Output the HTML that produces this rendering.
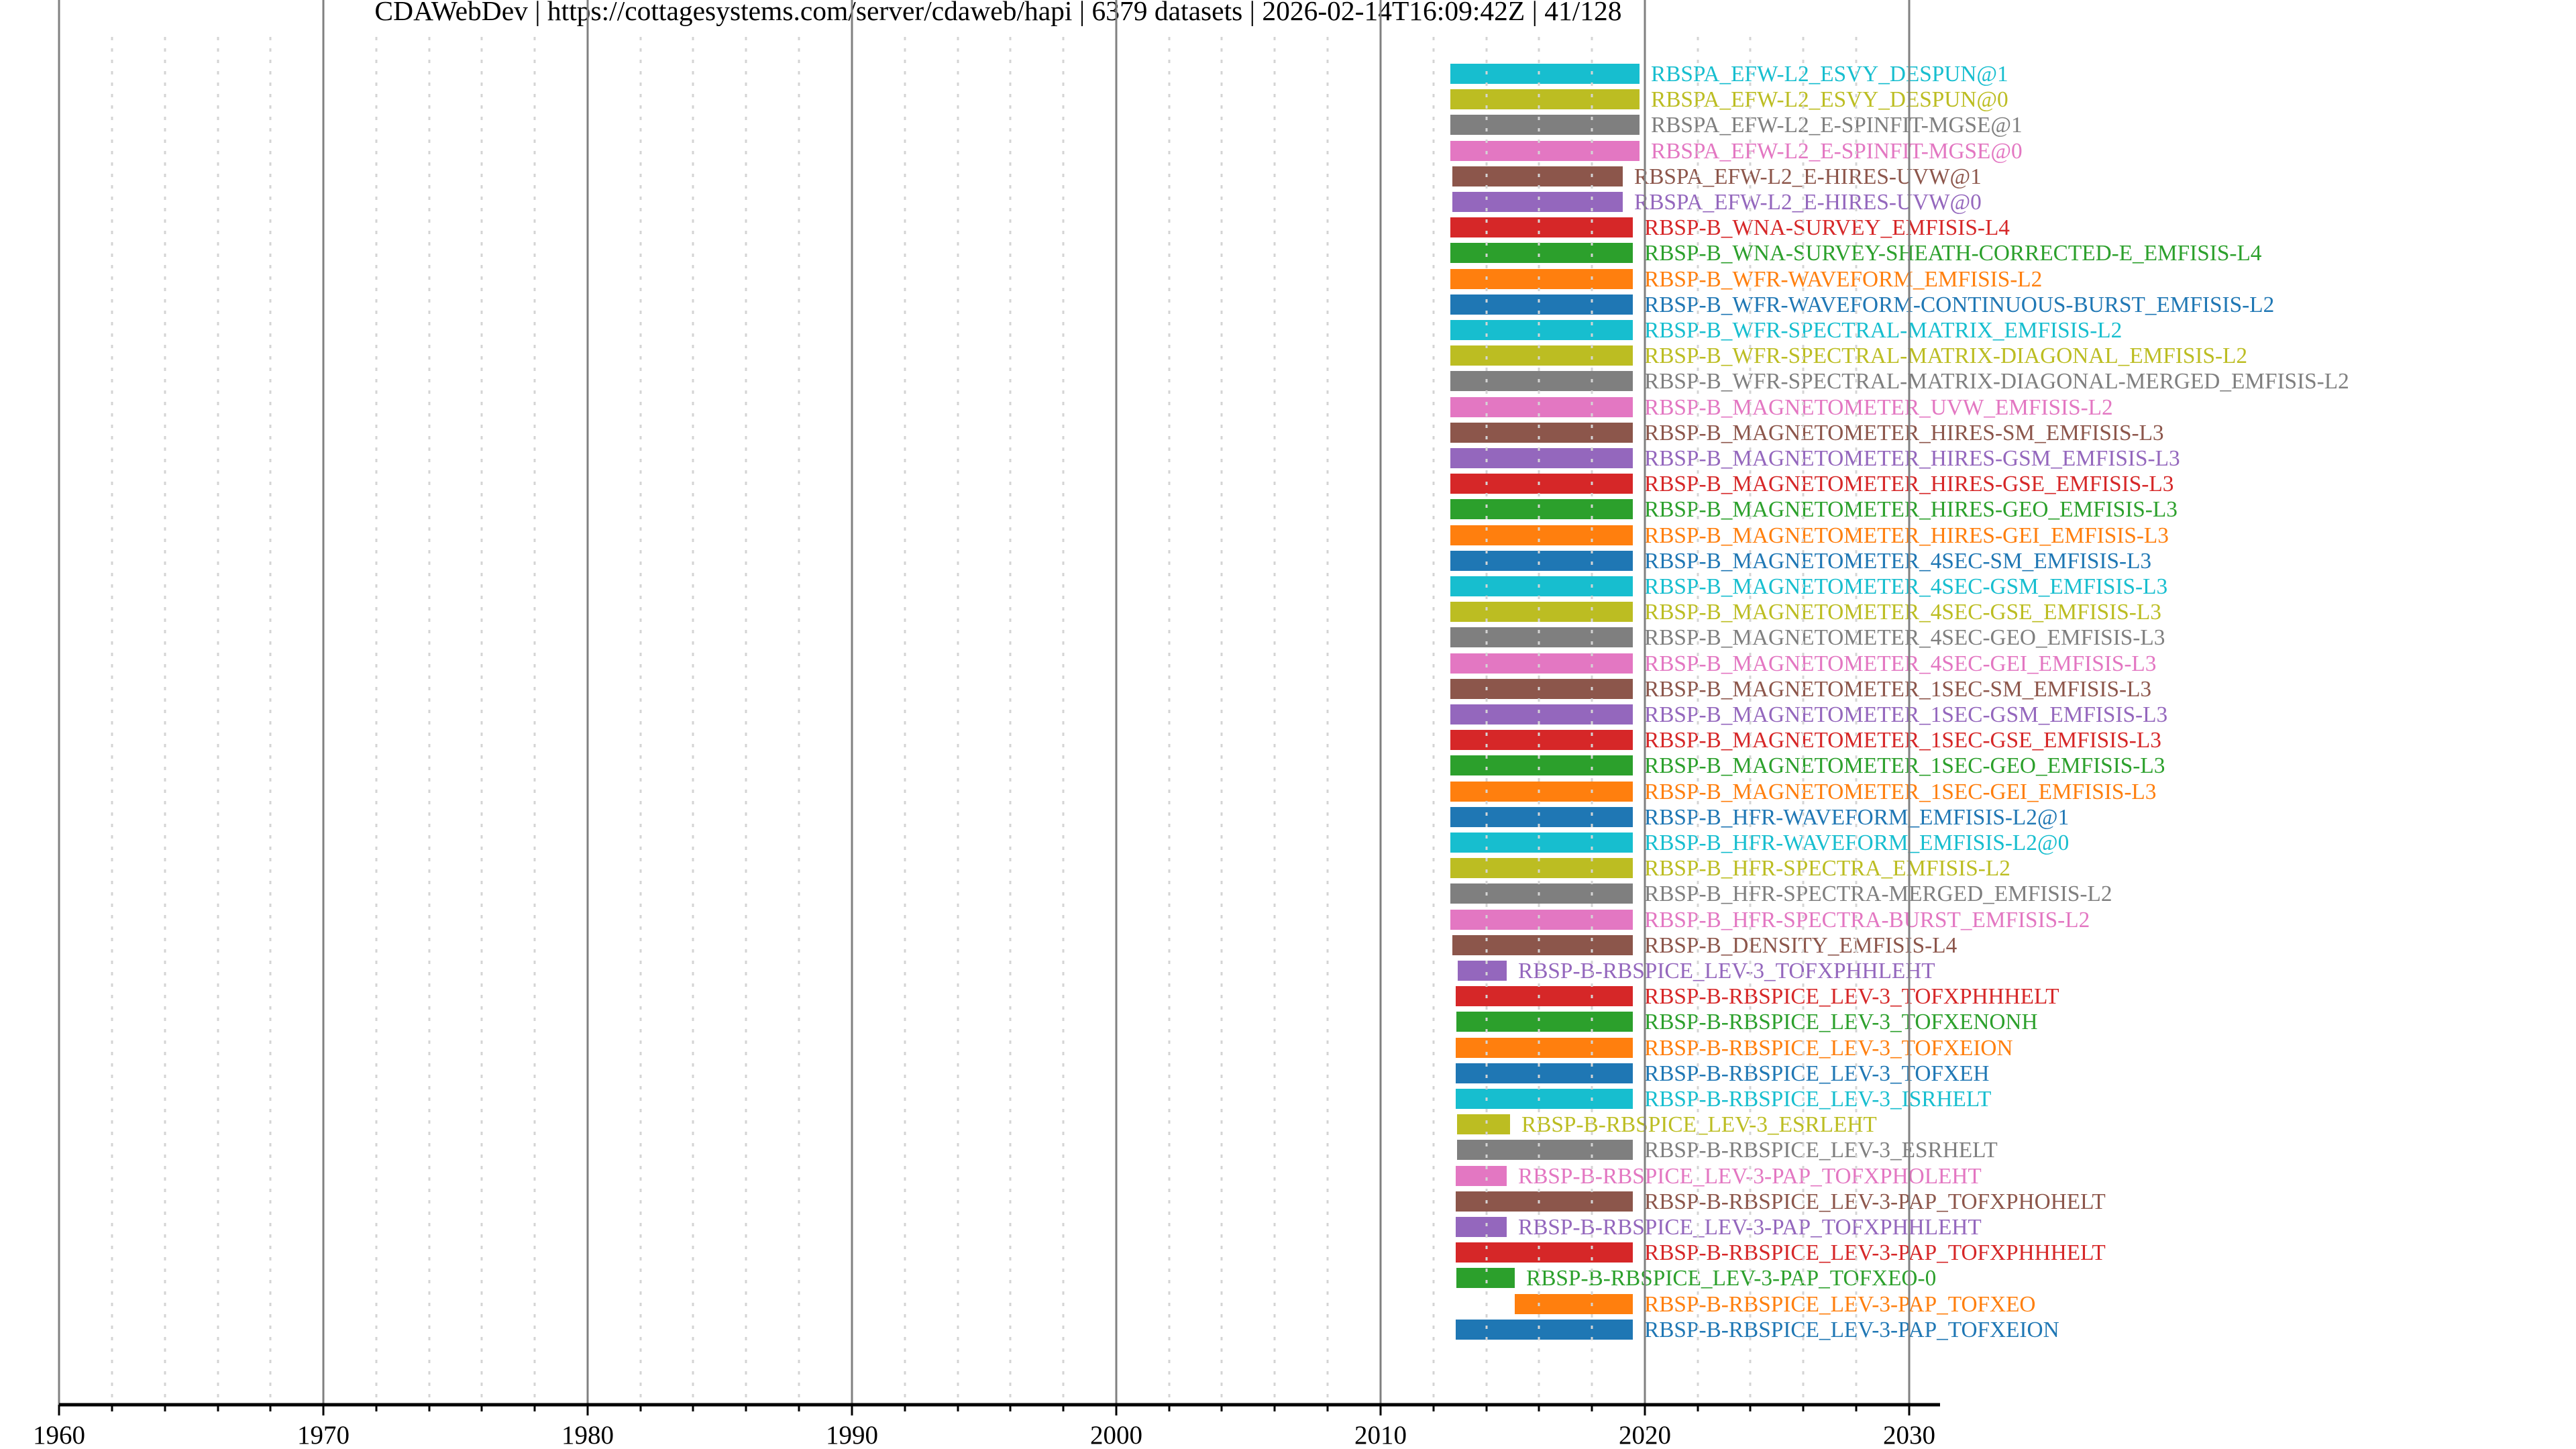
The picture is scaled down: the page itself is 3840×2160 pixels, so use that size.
<!DOCTYPE html>
<html><head><meta charset="utf-8"><style>
html,body{margin:0;padding:0;background:#fff;}
svg{display:block;}
text{font-family:"Liberation Serif","DejaVu Serif",serif;}
</style></head><body>
<svg width="3840" height="2160" viewBox="0 0 3840 2160" xmlns="http://www.w3.org/2000/svg">
<rect width="3840" height="2160" fill="#fff"/>
<text x="1488" y="30" font-size="41.5" text-anchor="middle" fill="#000">CDAWebDev | https://cottagesystems.com/server/cdaweb/hapi | 6379 datasets | 2026-02-14T16:09:42Z | 41/128</text>
<g font-size="33.3">
<rect x="2162" y="95" width="282" height="30" fill="#17becf"/><text x="2461" y="121" fill="#17becf">RBSPA_EFW-L2_ESVY_DESPUN@1</text>
<rect x="2162" y="133" width="282" height="30" fill="#bcbd22"/><text x="2461" y="159" fill="#bcbd22">RBSPA_EFW-L2_ESVY_DESPUN@0</text>
<rect x="2162" y="171" width="282" height="30" fill="#7f7f7f"/><text x="2461" y="197" fill="#7f7f7f">RBSPA_EFW-L2_E-SPINFIT-MGSE@1</text>
<rect x="2162" y="210" width="282" height="30" fill="#e377c2"/><text x="2461" y="236" fill="#e377c2">RBSPA_EFW-L2_E-SPINFIT-MGSE@0</text>
<rect x="2165" y="248" width="254" height="30" fill="#8c564b"/><text x="2436" y="274" fill="#8c564b">RBSPA_EFW-L2_E-HIRES-UVW@1</text>
<rect x="2165" y="286" width="254" height="30" fill="#9467bd"/><text x="2436" y="312" fill="#9467bd">RBSPA_EFW-L2_E-HIRES-UVW@0</text>
<rect x="2162" y="324" width="272" height="30" fill="#d62728"/><text x="2451" y="350" fill="#d62728">RBSP-B_WNA-SURVEY_EMFISIS-L4</text>
<rect x="2162" y="362" width="272" height="30" fill="#2ca02c"/><text x="2451" y="388" fill="#2ca02c">RBSP-B_WNA-SURVEY-SHEATH-CORRECTED-E_EMFISIS-L4</text>
<rect x="2162" y="401" width="272" height="30" fill="#ff7f0e"/><text x="2451" y="427" fill="#ff7f0e">RBSP-B_WFR-WAVEFORM_EMFISIS-L2</text>
<rect x="2162" y="439" width="272" height="30" fill="#1f77b4"/><text x="2451" y="465" fill="#1f77b4">RBSP-B_WFR-WAVEFORM-CONTINUOUS-BURST_EMFISIS-L2</text>
<rect x="2162" y="477" width="272" height="30" fill="#17becf"/><text x="2451" y="503" fill="#17becf">RBSP-B_WFR-SPECTRAL-MATRIX_EMFISIS-L2</text>
<rect x="2162" y="515" width="272" height="30" fill="#bcbd22"/><text x="2451" y="541" fill="#bcbd22">RBSP-B_WFR-SPECTRAL-MATRIX-DIAGONAL_EMFISIS-L2</text>
<rect x="2162" y="553" width="272" height="30" fill="#7f7f7f"/><text x="2451" y="579" fill="#7f7f7f">RBSP-B_WFR-SPECTRAL-MATRIX-DIAGONAL-MERGED_EMFISIS-L2</text>
<rect x="2162" y="592" width="272" height="30" fill="#e377c2"/><text x="2451" y="618" fill="#e377c2">RBSP-B_MAGNETOMETER_UVW_EMFISIS-L2</text>
<rect x="2162" y="630" width="272" height="30" fill="#8c564b"/><text x="2451" y="656" fill="#8c564b">RBSP-B_MAGNETOMETER_HIRES-SM_EMFISIS-L3</text>
<rect x="2162" y="668" width="272" height="30" fill="#9467bd"/><text x="2451" y="694" fill="#9467bd">RBSP-B_MAGNETOMETER_HIRES-GSM_EMFISIS-L3</text>
<rect x="2162" y="706" width="272" height="30" fill="#d62728"/><text x="2451" y="732" fill="#d62728">RBSP-B_MAGNETOMETER_HIRES-GSE_EMFISIS-L3</text>
<rect x="2162" y="744" width="272" height="30" fill="#2ca02c"/><text x="2451" y="770" fill="#2ca02c">RBSP-B_MAGNETOMETER_HIRES-GEO_EMFISIS-L3</text>
<rect x="2162" y="783" width="272" height="30" fill="#ff7f0e"/><text x="2451" y="809" fill="#ff7f0e">RBSP-B_MAGNETOMETER_HIRES-GEI_EMFISIS-L3</text>
<rect x="2162" y="821" width="272" height="30" fill="#1f77b4"/><text x="2451" y="847" fill="#1f77b4">RBSP-B_MAGNETOMETER_4SEC-SM_EMFISIS-L3</text>
<rect x="2162" y="859" width="272" height="30" fill="#17becf"/><text x="2451" y="885" fill="#17becf">RBSP-B_MAGNETOMETER_4SEC-GSM_EMFISIS-L3</text>
<rect x="2162" y="897" width="272" height="30" fill="#bcbd22"/><text x="2451" y="923" fill="#bcbd22">RBSP-B_MAGNETOMETER_4SEC-GSE_EMFISIS-L3</text>
<rect x="2162" y="935" width="272" height="30" fill="#7f7f7f"/><text x="2451" y="961" fill="#7f7f7f">RBSP-B_MAGNETOMETER_4SEC-GEO_EMFISIS-L3</text>
<rect x="2162" y="974" width="272" height="30" fill="#e377c2"/><text x="2451" y="1000" fill="#e377c2">RBSP-B_MAGNETOMETER_4SEC-GEI_EMFISIS-L3</text>
<rect x="2162" y="1012" width="272" height="30" fill="#8c564b"/><text x="2451" y="1038" fill="#8c564b">RBSP-B_MAGNETOMETER_1SEC-SM_EMFISIS-L3</text>
<rect x="2162" y="1050" width="272" height="30" fill="#9467bd"/><text x="2451" y="1076" fill="#9467bd">RBSP-B_MAGNETOMETER_1SEC-GSM_EMFISIS-L3</text>
<rect x="2162" y="1088" width="272" height="30" fill="#d62728"/><text x="2451" y="1114" fill="#d62728">RBSP-B_MAGNETOMETER_1SEC-GSE_EMFISIS-L3</text>
<rect x="2162" y="1126" width="272" height="30" fill="#2ca02c"/><text x="2451" y="1152" fill="#2ca02c">RBSP-B_MAGNETOMETER_1SEC-GEO_EMFISIS-L3</text>
<rect x="2162" y="1165" width="272" height="30" fill="#ff7f0e"/><text x="2451" y="1191" fill="#ff7f0e">RBSP-B_MAGNETOMETER_1SEC-GEI_EMFISIS-L3</text>
<rect x="2162" y="1203" width="272" height="30" fill="#1f77b4"/><text x="2451" y="1229" fill="#1f77b4">RBSP-B_HFR-WAVEFORM_EMFISIS-L2@1</text>
<rect x="2162" y="1241" width="272" height="30" fill="#17becf"/><text x="2451" y="1267" fill="#17becf">RBSP-B_HFR-WAVEFORM_EMFISIS-L2@0</text>
<rect x="2162" y="1279" width="272" height="30" fill="#bcbd22"/><text x="2451" y="1305" fill="#bcbd22">RBSP-B_HFR-SPECTRA_EMFISIS-L2</text>
<rect x="2162" y="1317" width="272" height="30" fill="#7f7f7f"/><text x="2451" y="1343" fill="#7f7f7f">RBSP-B_HFR-SPECTRA-MERGED_EMFISIS-L2</text>
<rect x="2162" y="1356" width="272" height="30" fill="#e377c2"/><text x="2451" y="1382" fill="#e377c2">RBSP-B_HFR-SPECTRA-BURST_EMFISIS-L2</text>
<rect x="2165" y="1394" width="269" height="30" fill="#8c564b"/><text x="2451" y="1420" fill="#8c564b">RBSP-B_DENSITY_EMFISIS-L4</text>
<rect x="2173" y="1432" width="73" height="30" fill="#9467bd"/><text x="2263" y="1458" fill="#9467bd">RBSP-B-RBSPICE_LEV-3_TOFXPHHLEHT</text>
<rect x="2170" y="1470" width="264" height="30" fill="#d62728"/><text x="2451" y="1496" fill="#d62728">RBSP-B-RBSPICE_LEV-3_TOFXPHHHELT</text>
<rect x="2171" y="1508" width="263" height="30" fill="#2ca02c"/><text x="2451" y="1534" fill="#2ca02c">RBSP-B-RBSPICE_LEV-3_TOFXENONH</text>
<rect x="2170" y="1547" width="264" height="30" fill="#ff7f0e"/><text x="2451" y="1573" fill="#ff7f0e">RBSP-B-RBSPICE_LEV-3_TOFXEION</text>
<rect x="2170" y="1585" width="264" height="30" fill="#1f77b4"/><text x="2451" y="1611" fill="#1f77b4">RBSP-B-RBSPICE_LEV-3_TOFXEH</text>
<rect x="2170" y="1623" width="264" height="30" fill="#17becf"/><text x="2451" y="1649" fill="#17becf">RBSP-B-RBSPICE_LEV-3_ISRHELT</text>
<rect x="2172" y="1661" width="79" height="30" fill="#bcbd22"/><text x="2268" y="1687" fill="#bcbd22">RBSP-B-RBSPICE_LEV-3_ESRLEHT</text>
<rect x="2172" y="1699" width="262" height="30" fill="#7f7f7f"/><text x="2451" y="1725" fill="#7f7f7f">RBSP-B-RBSPICE_LEV-3_ESRHELT</text>
<rect x="2170" y="1738" width="76" height="30" fill="#e377c2"/><text x="2263" y="1764" fill="#e377c2">RBSP-B-RBSPICE_LEV-3-PAP_TOFXPHOLEHT</text>
<rect x="2170" y="1776" width="264" height="30" fill="#8c564b"/><text x="2451" y="1802" fill="#8c564b">RBSP-B-RBSPICE_LEV-3-PAP_TOFXPHOHELT</text>
<rect x="2170" y="1814" width="76" height="30" fill="#9467bd"/><text x="2263" y="1840" fill="#9467bd">RBSP-B-RBSPICE_LEV-3-PAP_TOFXPHHLEHT</text>
<rect x="2170" y="1852" width="264" height="30" fill="#d62728"/><text x="2451" y="1878" fill="#d62728">RBSP-B-RBSPICE_LEV-3-PAP_TOFXPHHHELT</text>
<rect x="2171" y="1890" width="87" height="30" fill="#2ca02c"/><text x="2275" y="1916" fill="#2ca02c">RBSP-B-RBSPICE_LEV-3-PAP_TOFXEO-0</text>
<rect x="2258" y="1929" width="176" height="30" fill="#ff7f0e"/><text x="2451" y="1955" fill="#ff7f0e">RBSP-B-RBSPICE_LEV-3-PAP_TOFXEO</text>
<rect x="2170" y="1967" width="264" height="30" fill="#1f77b4"/><text x="2451" y="1993" fill="#1f77b4">RBSP-B-RBSPICE_LEV-3-PAP_TOFXEION</text>
</g>
<g stroke="#d4d4d4" stroke-width="3" stroke-dasharray="5,12">
<path d="M167 55V2094M246 55V2094M325 55V2094M403 55V2094M561 55V2094M640 55V2094M718 55V2094M797 55V2094M955 55V2094M1033 55V2094M1112 55V2094M1191 55V2094M1349 55V2094M1428 55V2094M1506 55V2094M1585 55V2094M1743 55V2094M1821 55V2094M1900 55V2094M1979 55V2094M2137 55V2094M2216 55V2094M2294 55V2094M2373 55V2094M2531 55V2094M2609 55V2094M2688 55V2094M2767 55V2094"/>
</g>
<g stroke="#808080" stroke-width="3">
<path d="M88 0V2094M482 0V2094M876 0V2094M1270 0V2094M1664 0V2094M2058 0V2094M2452 0V2094M2846 0V2094"/>
</g>
<line x1="88" y1="2094" x2="2892" y2="2094" stroke="#000" stroke-width="5"/>
<g stroke="#000" stroke-width="3">
<path d="M88 2094V2110M482 2094V2110M876 2094V2110M1270 2094V2110M1664 2094V2110M2058 2094V2110M2452 2094V2110M2846 2094V2110"/>
<path d="M167 2094V2104M246 2094V2104M325 2094V2104M403 2094V2104M561 2094V2104M640 2094V2104M718 2094V2104M797 2094V2104M955 2094V2104M1033 2094V2104M1112 2094V2104M1191 2094V2104M1349 2094V2104M1428 2094V2104M1506 2094V2104M1585 2094V2104M1743 2094V2104M1821 2094V2104M1900 2094V2104M1979 2094V2104M2137 2094V2104M2216 2094V2104M2294 2094V2104M2373 2094V2104M2531 2094V2104M2609 2094V2104M2688 2094V2104M2767 2094V2104"/>
</g>
<g font-size="39" text-anchor="middle" fill="#000">
<text x="88" y="2152">1960</text>
<text x="482" y="2152">1970</text>
<text x="876" y="2152">1980</text>
<text x="1270" y="2152">1990</text>
<text x="1664" y="2152">2000</text>
<text x="2058" y="2152">2010</text>
<text x="2452" y="2152">2020</text>
<text x="2846" y="2152">2030</text>
</g>
</svg>
</body></html>
